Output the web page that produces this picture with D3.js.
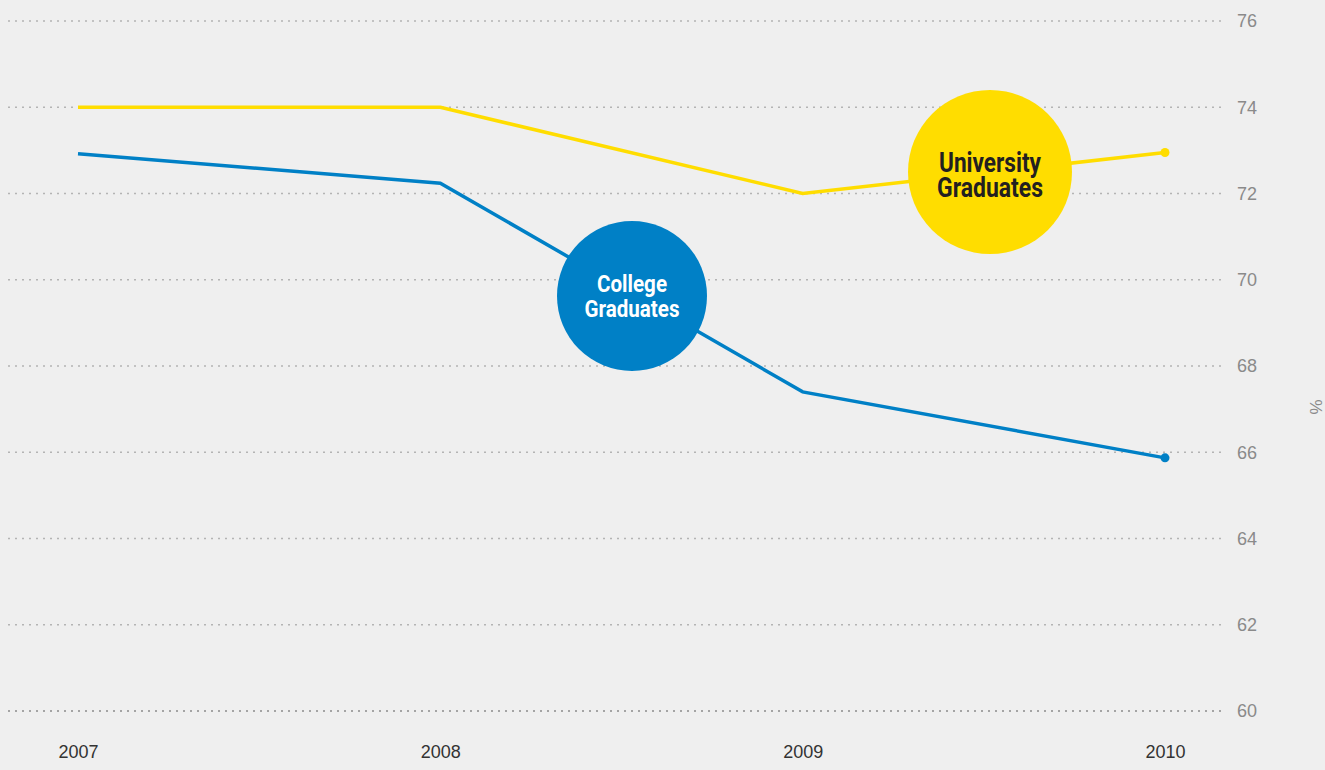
<!DOCTYPE html>
<html>
<head>
<meta charset="utf-8">
<script src="https://cdn.jsdelivr.net/npm/d3@7"></script>
<style>
  body { margin: 0; background: #efefef; }
  svg { display: block; }
</style>
</head>
<body>
<svg id="canvas"></svg>
<script>
const years = [2007, 2008, 2009, 2010]
const university = [74, 74, 72, 72.95]
const college = [72.92, 72.24, 67.4, 65.87]
const yTicks = [60, 62, 64, 66, 68, 70, 72, 74, 76]

let width = 1325
let height = 770
let svg = d3.select('#canvas')
    .attr('width', width)
    .attr('height', height)

svg.append('rect')
    .attr('width', width)
    .attr('height', height)
    .attr('fill', '#efefef')

// scales
let xScale = d3.scaleLinear()
    .domain([2007, 2010])
    .range([78, 1165])

let yScale = d3.scaleLinear()
    .domain([60, 76])
    .range([711, 21])

// gridlines + y labels
let yAxis = d3.axisRight(yScale)
    .tickValues(yTicks)
    .tickSize(0)
    .tickPadding(0)

let yg = svg.append('g')
    .attr('transform', 'translate(1237,0)')
    .call(yAxis)
yg.select('.domain').remove()
yg.selectAll('text')
    .attr('fill', '#8a8a8a')
    .style('font-family', '"Liberation Sans", Arial, sans-serif')
    .style('font-size', '18px')

svg.append('g')
    .selectAll('line')
    .data(yTicks)
    .enter()
    .append('line')
    .attr('x1', 8)
    .attr('x2', 1223)
    .attr('y1', (d) => yScale(d))
    .attr('y2', (d) => yScale(d))
    .attr('stroke', (d) => d === 60 ? '#8c8c8c' : '#b4b4b4')
    .attr('stroke-width', 1.6)
    .attr('stroke-dasharray', '2,5')

// x labels
let xAxis = d3.axisBottom(xScale)
    .tickValues(years)
    .tickFormat(d3.format('d'))
    .tickSize(0)
    .tickPadding(0)

let xg = svg.append('g')
    .attr('transform', 'translate(0,745)')
    .call(xAxis)
xg.select('.domain').remove()
xg.selectAll('text')
    .attr('fill', '#333')
    .style('font-family', '"Liberation Sans", Arial, sans-serif')
    .style('font-size', '18px')

// unit label
svg.append('text')
    .attr('transform', 'translate(1322,407) rotate(-90)')
    .attr('text-anchor', 'middle')
    .attr('fill', '#8a8a8a')
    .style('font-family', '"Liberation Sans", Arial, sans-serif')
    .style('font-size', '17px')
    .text('%')

// lines
let line = d3.line()
    .x((d, i) => xScale(years[i]))
    .y((d) => yScale(d))

let series = [
    { values: university, color: '#ffdd00' },
    { values: college, color: '#0080c6' }
]

series.forEach((s) => {
    svg.append('path')
        .datum(s.values)
        .attr('d', line)
        .attr('fill', 'none')
        .attr('stroke', s.color)
        .attr('stroke-width', 3.5)
    svg.append('circle')
        .attr('cx', xScale(years[3]))
        .attr('cy', yScale(s.values[3]))
        .attr('r', 4.5)
        .attr('fill', s.color)
})

// bubbles (condensed look via textLength)
let bubbles = [
    { cx: 990, cy: 172, r: 82, fill: '#ffdd00', color: '#231f20', size: 27, lines: ['University', 'Graduates'], widths: [102, 106], base: 172, gap: 25 },
    { cx: 632, cy: 296, r: 75, fill: '#0080c6', color: '#ffffff', size: 23, lines: ['College', 'Graduates'], widths: [70, 95], base: 292, gap: 25 }
]

bubbles.forEach((b) => {
    svg.append('circle')
        .attr('cx', b.cx)
        .attr('cy', b.cy)
        .attr('r', b.r)
        .attr('fill', b.fill)
    b.lines.forEach((l, i) => {
        svg.append('text')
            .attr('x', b.cx - b.widths[i] / 2)
            .attr('y', b.base + i * b.gap)
            .attr('textLength', b.widths[i])
            .attr('lengthAdjust', 'spacingAndGlyphs')
            .attr('fill', b.color)
            .style('font-family', 'Roboto, "Liberation Sans", sans-serif')
            .style('font-weight', 'bold')
            .style('font-size', b.size + 'px')
            .text(l)
    })
})
</script>
</body>
</html>
